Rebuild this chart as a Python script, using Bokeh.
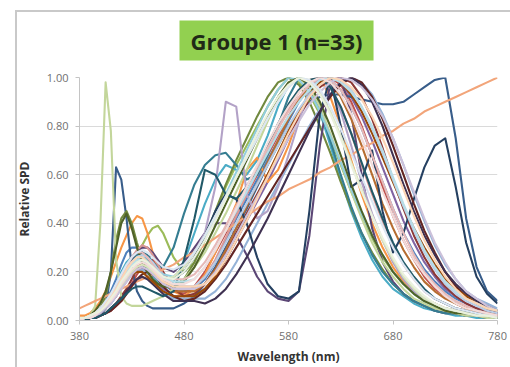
from bokeh.plotting import figure
from bokeh.models import FixedTicker, NumeralTickFormatter, Range1d
from bokeh.embed import file_html
from bokeh.resources import INLINE

# ---------------- data ----------------
wavelength_nm = [380, 385, 390, 395, 400, 405, 410, 415, 420, 425, 430, 435, 440, 445, 450, 455, 460,
                 470, 480, 490, 500, 510, 520, 530, 540, 550, 560, 570, 580, 590, 600, 610, 620, 630,
                 640, 650, 660, 670, 680, 690, 700, 710, 720, 730, 740, 750, 760, 770, 780]

spd_01 = [.01, .01, .02, .03, .05, .08, .12, .17, .23, .28, .30, .30, .28, .25, .21, .18, .15,
          .12, .12, .13, .17, .24, .33, .42, .50, .58, .66, .74, .82, .90, .96, 1.00, .99, .95, .88, .79, .68, .57, .46, .36, .28, .21, .16, .12, .09, .07, .05, .04, .03]
spd_02 = [.00, .00, .01, .01, .02, .03, .04, .06, .08, .11, .15, .19, .22, .24, .25, .22, .18,
          .12, .11, .14, .20, .28, .36, .44, .52, .60, .68, .76, .84, .91, .96, .99, 1.00, .97, .90, .80, .68, .55, .43, .33, .25, .18, .13, .10, .07, .05, .04, .03, .02]
spd_03 = [.01, .01, .02, .03, .04, .06, .09, .12, .16, .20, .24, .28, .31, .35, .38, .39, .36,
          .26, .20, .24, .33, .44, .55, .64, .72, .80, .88, .95, 1.00, .98, .93, .85, .75, .64, .53, .43, .34, .26, .20, .15, .11, .08, .06, .05, .04, .03, .02, .02, .01]
spd_04 = [.00, .01, .01, .02, .03, .05, .07, .10, .14, .17, .20, .21, .22, .20, .18, .15, .13,
          .10, .10, .10, .13, .18, .25, .33, .41, .49, .57, .66, .75, .84, .92, .98, 1.00, .98, .92, .84, .74, .63, .52, .41, .32, .24, .18, .13, .10, .07, .05, .04, .03]
spd_05 = [.01, .01, .02, .03, .04, .07, .10, .14, .20, .24, .26, .26, .24, .21, .18, .16, .14,
          .16, .24, .36, .48, .58, .64, .62, .60, .66, .76, .88, .97, 1.00, .96, .86, .72, .58, .45, .34, .25, .18, .13, .10, .07, .05, .04, .03, .02, .02, .01, .01, .01]
spd_06 = [.02, .02, .03, .05, .08, .12, .18, .24, .30, .35, .40, .43, .42, .36, .28, .22, .18,
          .12, .10, .13, .19, .28, .38, .48, .62, .67, .57, .62, .72, .84, .95, 1.00, .92, .80, .66, .52, .40, .30, .22, .16, .12, .09, .07, .05, .04, .03, .03, .02, .02]
spd_07 = [.00, .00, .01, .01, .02, .05, .20, .63, .58, .42, .22, .12, .08, .06, .05, .05, .05,
          .05, .07, .10, .15, .22, .30, .38, .46, .55, .64, .72, .80, .86, .90, .92, .93, .93, .92, .91, .90, .89, .89, .90, .93, .96, .99, 1.00, .75, .42, .22, .12, .08]
spd_08 = [.00, .00, .01, .01, .02, .03, .05, .07, .10, .13, .17, .21, .24, .26, .27, .24, .20,
          .13, .10, .11, .15, .21, .28, .36, .44, .52, .60, .68, .76, .84, .91, .96, .99, 1.00, .98, .92, .83, .71, .58, .46, .35, .26, .19, .14, .10, .07, .05, .04, .03]
spd_09 = [.01, .01, .02, .03, .05, .10, .20, .33, .42, .45, .40, .32, .25, .20, .17, .15, .14,
          .14, .17, .24, .34, .45, .56, .66, .75, .84, .92, .98, 1.00, .97, .90, .80, .69, .57, .46, .36, .28, .21, .15, .11, .08, .06, .05, .04, .03, .02, .02, .01, .01]
spd_10 = [.00, .00, .01, .02, .03, .05, .08, .11, .16, .20, .25, .28, .30, .30, .28, .25, .22,
          .20, .24, .30, .36, .40, .40, .35, .27, .18, .12, .09, .08, .12, .35, .72, .98, 1.00, .85, .60, .38, .24, .16, .11, .08, .06, .04, .03, .03, .02, .02, .01, .01]
spd_11 = [.00, .00, .01, .02, .03, .05, .08, .11, .16, .20, .24, .27, .28, .27, .24, .22, .22,
          .30, .44, .56, .64, .68, .69, .64, .58, .60, .68, .80, .92, 1.00, .98, .88, .74, .60, .47, .36, .27, .20, .15, .11, .08, .06, .04, .03, .03, .02, .02, .01, .01]
spd_12 = [.01, .01, .02, .03, .04, .05, .08, .10, .14, .17, .20, .22, .24, .23, .22, .19, .16,
          .12, .12, .12, .15, .21, .29, .38, .47, .56, .65, .74, .83, .91, .97, 1.00, .98, .92, .83, .72, .60, .48, .38, .29, .22, .16, .12, .09, .07, .05, .04, .03, .02]
spd_13 = [.00, .00, .01, .02, .03, .05, .07, .10, .13, .16, .19, .20, .21, .19, .17, .14, .12,
          .09, .09, .09, .09, .12, .17, .24, .32, .40, .48, .56, .64, .72, .80, .87, .93, .98, 1.00, .98, .93, .85, .75, .64, .52, .41, .31, .23, .17, .12, .09, .07, .05]
spd_14 = [.01, .01, .02, .03, .04, .06, .09, .13, .17, .22, .26, .29, .31, .30, .27, .23, .19,
          .14, .14, .14, .18, .25, .34, .43, .52, .61, .70, .79, .87, .94, .99, 1.00, .96, .88, .77, .64, .52, .41, .31, .23, .17, .12, .09, .07, .05, .04, .03, .02, .02]
spd_15 = [.00, .00, .02, .06, .40, .98, .78, .25, .10, .07, .06, .06, .06, .07, .08, .09, .10,
          .13, .17, .22, .28, .36, .44, .53, .62, .72, .82, .91, .98, 1.00, .96, .88, .77, .65, .53, .42, .32, .24, .18, .13, .09, .07, .05, .04, .03, .02, .02, .01, .01]
spd_16 = [.00, .00, .01, .02, .03, .05, .08, .12, .16, .20, .23, .25, .25, .23, .20, .17, .15,
          .18, .22, .28, .36, .55, .90, .88, .52, .42, .45, .55, .68, .82, .95, 1.00, .96, .86, .72, .57, .44, .33, .24, .17, .12, .09, .07, .05, .04, .03, .02, .02, .01]
spd_17 = [.01, .01, .02, .03, .05, .07, .10, .13, .17, .20, .23, .25, .26, .25, .23, .21, .19,
          .18, .20, .26, .34, .43, .52, .61, .70, .79, .88, .95, 1.00, .99, .94, .86, .76, .65, .54, .44, .35, .27, .20, .15, .11, .08, .06, .05, .04, .03, .02, .02, .01]
spd_18 = [.05, .06, .07, .08, .09, .10, .11, .12, .13, .14, .15, .16, .17, .18, .19, .20, .21,
          .23, .26, .28, .31, .34, .37, .40, .43, .46, .49, .51, .54, .56, .58, .61, .63, .66, .68, .71, .73, .76, .78, .81, .83, .86, .88, .90, .92, .94, .96, .98, 1.00]
spd_19 = [.00, .00, .01, .02, .03, .05, .08, .12, .17, .22, .26, .28, .28, .26, .23, .20, .18,
          .17, .20, .26, .35, .45, .52, .50, .40, .26, .15, .10, .09, .12, .45, .85, 1.00, .80, .55, .58, .70, .45, .28, .36, .50, .63, .72, .75, .55, .32, .18, .11, .07]
spd_20 = [.00, .00, .01, .01, .02, .03, .04, .06, .08, .11, .14, .17, .19, .20, .19, .17, .14,
          .10, .08, .09, .12, .17, .23, .30, .37, .44, .51, .58, .65, .72, .79, .86, .92, .97, 1.00, .98, .92, .83, .72, .60, .48, .37, .28, .20, .14, .10, .07, .05, .04]
spd_21 = [.01, .01, .02, .04, .07, .12, .20, .30, .40, .44, .38, .30, .24, .20, .17, .15, .14,
          .14, .16, .22, .30, .39, .48, .57, .66, .75, .84, .92, .98, 1.00, .97, .90, .80, .68, .56, .45, .35, .27, .20, .15, .11, .08, .06, .04, .03, .03, .02, .02, .01]
spd_22 = [.00, .00, .01, .01, .02, .03, .05, .07, .09, .12, .15, .17, .18, .17, .15, .13, .11,
          .08, .08, .08, .07, .09, .13, .19, .26, .34, .42, .51, .60, .69, .78, .86, .93, .98, 1.00, .97, .90, .80, .68, .56, .45, .35, .27, .20, .15, .11, .08, .06, .04]
spd_23 = [.00, .00, .01, .01, .02, .03, .05, .07, .09, .11, .13, .14, .14, .13, .12, .11, .10,
          .12, .25, .42, .62, .60, .52, .50, .55, .63, .72, .81, .89, .95, .99, 1.00, .96, .88, .77, .65, .53, .42, .32, .24, .18, .13, .09, .07, .05, .04, .03, .02, .02]
spd_24 = [.01, .01, .02, .03, .04, .06, .08, .11, .14, .17, .19, .20, .20, .18, .16, .14, .12,
          .10, .10, .10, .13, .18, .25, .33, .42, .51, .60, .69, .78, .86, .93, .98, 1.00, .98, .93, .86, .77, .67, .57, .47, .38, .30, .23, .17, .13, .10, .07, .05, .04]
spd_25 = [.00, .01, .01, .02, .04, .06, .09, .13, .17, .21, .24, .26, .27, .26, .24, .21, .18,
          .14, .14, .14, .18, .24, .32, .40, .48, .56, .64, .72, .80, .87, .93, .97, 1.00, .99, .95, .88, .79, .69, .58, .47, .37, .28, .21, .15, .11, .08, .06, .04, .03]
spd_26 = [.01, .01, .02, .03, .05, .07, .10, .14, .18, .22, .26, .28, .28, .26, .23, .20, .18,
          .17, .17, .19, .24, .31, .39, .47, .55, .63, .71, .79, .86, .92, .97, 1.00, .99, .95, .88, .79, .68, .57, .46, .36, .27, .20, .15, .11, .08, .06, .04, .03, .02]
spd_27 = [.01, .01, .02, .03, .04, .06, .08, .11, .14, .17, .20, .22, .23, .22, .20, .18, .17,
          .18, .22, .28, .35, .43, .51, .59, .67, .75, .83, .90, .96, 1.00, .99, .94, .86, .76, .65, .54, .43, .33, .25, .18, .13, .09, .07, .05, .04, .03, .02, .02, .01]
spd_28 = [.00, .01, .01, .02, .03, .05, .07, .10, .13, .16, .19, .21, .22, .21, .19, .17, .15,
          .13, .13, .13, .15, .20, .27, .35, .43, .51, .59, .67, .75, .82, .89, .94, .98, 1.00, .99, .96, .91, .84, .75, .64, .53, .42, .32, .24, .17, .12, .09, .06, .04]
spd_29 = [.01, .01, .02, .03, .05, .07, .10, .13, .17, .20, .23, .25, .25, .24, .22, .20, .18,
          .16, .16, .17, .22, .29, .37, .45, .53, .61, .69, .77, .84, .90, .95, .99, 1.00, .98, .94, .88, .80, .70, .59, .48, .38, .29, .22, .16, .12, .09, .07, .05, .04]
spd_30 = [.01, .01, .02, .03, .05, .07, .10, .13, .17, .21, .24, .26, .26, .24, .21, .18, .16,
          .14, .14, .14, .15, .19, .25, .33, .41, .50, .59, .68, .77, .85, .92, .97, 1.00, .99, .96, .91, .84, .75, .65, .54, .43, .33, .25, .18, .13, .09, .07, .05, .04]
spd_31 = [.01, .01, .02, .03, .05, .08, .11, .15, .19, .23, .26, .28, .29, .28, .26, .24, .22,
          .21, .23, .28, .35, .43, .51, .59, .67, .75, .83, .90, .96, 1.00, .99, .95, .88, .79, .69, .59, .49, .39, .30, .23, .17, .12, .09, .07, .05, .04, .03, .02, .02]
spd_32 = [.00, .01, .01, .02, .04, .06, .08, .11, .15, .18, .21, .23, .24, .23, .21, .19, .17,
          .15, .15, .17, .22, .29, .37, .46, .55, .64, .73, .81, .88, .94, .98, 1.00, .98, .93, .85, .75, .64, .53, .43, .33, .25, .19, .14, .10, .07, .05, .04, .03, .02]
spd_33 = [.01, .01, .02, .03, .04, .06, .09, .12, .16, .19, .22, .24, .25, .24, .22, .20, .18,
          .17, .20, .26, .33, .41, .50, .59, .68, .77, .85, .92, .97, 1.00, .98, .93, .85, .75, .64, .53, .43, .34, .26, .19, .14, .10, .07, .05, .04, .03, .02, .02, .01]

series_colors = ["#4F81BD", "#C0504D", "#9BBB59", "#8064A2", "#4BACC6", "#F79646",
                 "#385D8A", "#8C3836", "#71893F", "#5C4776", "#357D91", "#B66D31",
                 "#95B3D7", "#D99694", "#C3D69B", "#B3A2C7", "#93CDDD", "#F2A57A",
                 "#254061", "#632523", "#4F6228", "#3F3151", "#215968", "#984807",
                 "#B9CDE5", "#E6B9B8", "#D7E4BD", "#CCC1DA", "#B7DEE8", "#FCD5B5",
                 "#DCE6F2", "#F2DCDB", "#EBF1DE"]

all_series = [spd_01, spd_02, spd_03, spd_04, spd_05, spd_06, spd_07, spd_08, spd_09, spd_10,
              spd_11, spd_12, spd_13, spd_14, spd_15, spd_16, spd_17, spd_18, spd_19, spd_20,
              spd_21, spd_22, spd_23, spd_24, spd_25, spd_26, spd_27, spd_28, spd_29, spd_30,
              spd_31, spd_32, spd_33]

x_ticks = [380, 480, 580, 680, 780]
y_ticks = [0.0, 0.2, 0.4, 0.6, 0.8, 1.0]
title_text = "Groupe 1 (n=33)"
x_title = "Wavelength (nm)"
y_title = "Relative SPD"

# ---------------- figure ----------------
FONT = "Open Sans"
p = figure(width=510, height=367, x_range=Range1d(380, 780), y_range=Range1d(0, 1),
           output_backend="svg", toolbar_location=None, title=title_text,
           min_border_left=79, min_border_right=13, min_border_top=77, min_border_bottom=47)
p.background_fill_color = "white"
p.border_fill_color = None
p.outline_line_color = None
# grey chart-area edges (top and left) painted behind the transparent border area
p.styles = {
    "background": "linear-gradient(#C9C9C9, #C9C9C9) 15px 10px / calc(100% - 15px) 2px no-repeat, "
                  "linear-gradient(#C9C9C9, #C9C9C9) 15px 10px / 2px calc(100% - 10px) no-repeat, "
                  "#FFFFFF"
}

for vals, col in zip(all_series, series_colors):
    p.line(wavelength_nm, vals, line_color=col, line_width=2.1, line_join="round")

# title in a green box
p.title.align = "left"
p.title.offset = 100
p.title.text_font = FONT
p.title.text_font_size = "22px"
p.title.text_font_style = "bold"
p.title.text_color = "#1F2A17"
p.title.background_fill_color = "#92D050"
p.title.padding = (11, 5)
p.title.standoff = 34

# axes
p.xaxis.ticker = FixedTicker(ticks=x_ticks)
p.yaxis.ticker = FixedTicker(ticks=y_ticks)
p.yaxis.formatter = NumeralTickFormatter(format="0.00")
for ax in (p.xaxis, p.yaxis):
    ax.major_label_text_font = FONT
    ax.major_label_text_font_size = "11px"
    ax.major_label_text_color = "#707070"
    ax.axis_line_color = "#C4C4C4"
    ax.major_tick_line_color = "#C4C4C4"
    ax.major_tick_out = 4
    ax.major_tick_in = 0
    ax.minor_tick_line_color = None
    ax.axis_label_text_font = FONT
    ax.axis_label_text_font_size = "12px"
    ax.axis_label_text_font_style = "bold"
    ax.axis_label_text_color = "#333333"
p.xaxis.axis_label = x_title
p.yaxis.axis_label = y_title
p.xaxis.major_label_standoff = 7
p.xaxis.axis_label_standoff = 5
p.yaxis.major_label_standoff = 7
p.yaxis.axis_label_standoff = 11

p.xgrid.visible = False
p.ygrid.grid_line_color = "#DADADA"
p.ygrid.grid_line_width = 1

open("out.html", "w").write(file_html(p, INLINE))
